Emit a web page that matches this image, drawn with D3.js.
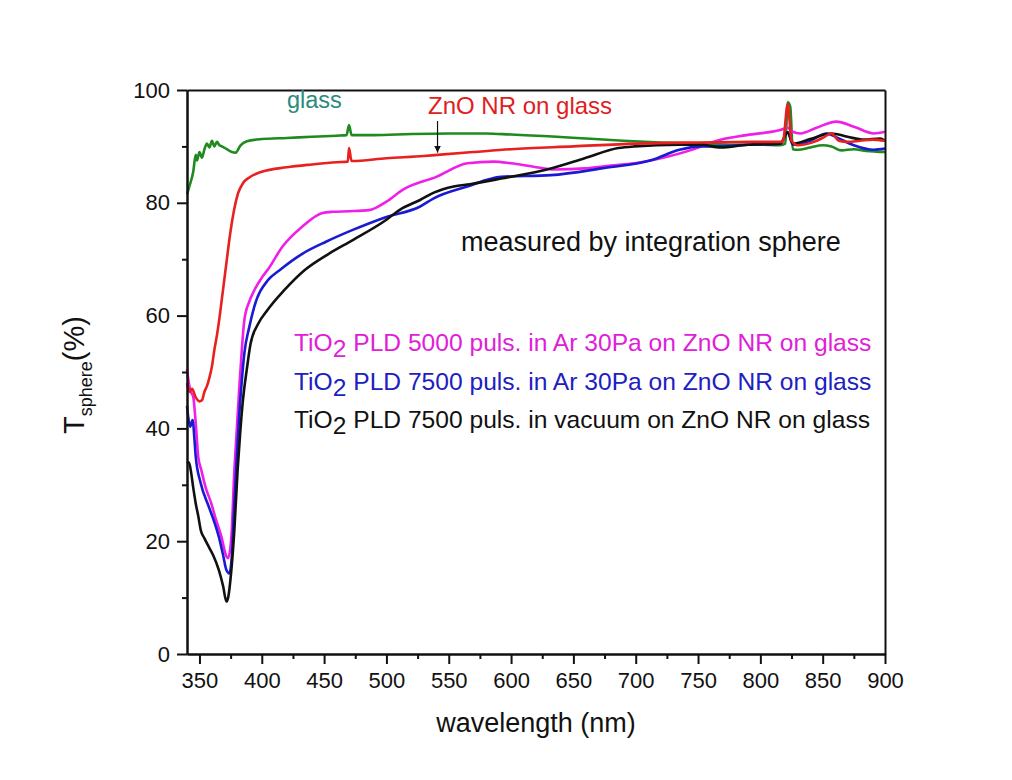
<!DOCTYPE html>
<html>
<head>
<meta charset="utf-8">
<script src="https://cdn.jsdelivr.net/npm/d3@7"></script>
<style>
  body { margin: 0; background: #fff; }
  svg { font-family: "Liberation Sans", Arial, sans-serif; }
</style>
</head>
<body>
<div id="chart"></div>
<script>
// transmission spectra, [wavelength nm, T %]
const glass = [
  [340, 81.5], [342, 83], [345, 85.5], [347, 88.5], [348, 87.5], [350, 89], [352, 88], [354, 89.5],
  [356, 90.5], [358, 89.8], [360, 91], [362, 90], [364, 90.8], [366, 90.2], [368, 90], [372, 89.5],
  [376, 89], [379, 88.9], [383, 90.2], [388, 90.9], [400, 91.3], [420, 91.5], [440, 91.7], [460, 91.9],
  [468, 92], [470, 93.8], [472, 92], [490, 92], [520, 92.2], [550, 92.3], [580, 92.3], [600, 92.1],
  [630, 91.8], [660, 91.4], [690, 91], [720, 90.7], [750, 90.5], [780, 90.3], [800, 90.3], [815, 90.2],
  [820, 90.5], [822, 97.8], [824, 97], [826, 89.5], [830, 89.4], [840, 89.8], [850, 90.2], [857, 90],
  [865, 89.3], [875, 89.5], [885, 89.2], [900, 89]
];
const znoNR = [
  [340, 48], [342, 46.5], [344, 47], [347, 45.5], [350, 44.8], [352, 45], [354, 46.5], [356, 47.5],
  [358, 49], [360, 51], [362, 54], [364, 56.5], [366, 59.5], [368, 63], [370, 66.5], [372, 70],
  [374, 73.5], [376, 76.5], [378, 79], [381, 81.7], [385, 83.5], [390, 84.5], [400, 85.5], [420, 86.3],
  [440, 86.8], [460, 87.2], [469, 87.3], [470, 89.7], [472, 87.4], [500, 87.9], [530, 88.3], [541, 88.5],
  [570, 89], [600, 89.5], [650, 90], [700, 90.5], [750, 90.7], [800, 90.8], [818, 90.8], [822, 97.5],
  [825, 91], [830, 90.2], [843, 90.8], [850, 91.5], [857, 92.3], [863, 91], [870, 90.8], [880, 91],
  [890, 91.2], [900, 91]
];
const tio5000Ar = [
  [340, 50.5], [341.5, 48], [343, 46.5], [345, 45.6], [347, 41], [349, 35], [351.5, 32.6], [355, 29.5],
  [359.5, 26.7], [363, 24], [367.6, 20.8], [370, 18.5], [371.6, 17.3], [373, 17], [375.6, 20.8],
  [378, 32.6], [380, 40], [382, 47.4], [384, 54], [386, 59.2], [390, 62.5], [394, 64.5], [400.5, 66.9],
  [405, 68.2], [416.5, 72.2], [432.6, 75.8], [448.7, 78.2], [456.7, 78.4], [470, 78.5], [486, 78.7],
  [500, 80.2], [513, 82.3], [540, 84.6], [565, 87], [586, 87.3], [600, 87], [618, 86.4], [635, 85.9],
  [659, 86.1], [680, 86.6], [699, 87], [726, 88.2], [753, 90], [762, 90.8], [789, 92], [816, 92.9],
  [822, 93.3], [826, 92.6], [832, 92.3], [845, 93.3], [861, 94.4], [875, 93.5], [891, 92.3], [900, 92.6]
];
const tio7500Ar = [
  [340, 44], [341, 42], [342.5, 40.3], [344.5, 41.5], [346, 38], [347, 35], [351, 30.3], [357.5, 26.1],
  [361, 24], [365.5, 20.8], [369, 17.5], [371.6, 14.9], [374, 14.3], [376, 17.5], [378, 26.7], [380, 35],
  [382, 42.7], [384, 48.5], [386, 53.3], [390, 58], [394, 61.6], [405, 66.3], [414, 68], [432.8, 71],
  [451.5, 73.1], [473, 75.2], [500, 77.5], [526.7, 79.3], [538, 80.8], [565, 82.9], [592, 84.6],
  [632, 84.9], [672.6, 86.1], [713, 87.6], [735, 89.4], [753, 90], [762, 90], [790, 90.3], [816, 90.5],
  [822, 92.5], [826, 90.3], [840, 91], [853, 92.3], [862, 91.5], [875, 90.2], [891, 89.4], [900, 89.6]
];
const tio7500Vac = [
  [340, 33.8], [341.5, 34], [343, 32.6], [345, 29.5], [347, 26.7], [349, 24.5], [351, 22], [354, 20.5],
  [357.5, 19], [361, 17.5], [365.5, 14.9], [369, 12], [371.6, 9.3], [373, 10], [375.6, 14.9], [378, 22],
  [380.6, 32.6], [382.6, 39], [384.6, 44.4], [388, 50.5], [391, 55], [397, 58.5], [404.6, 61], [418, 64.5],
  [434, 68], [454, 71], [473, 73.4], [500, 77], [511, 78.8], [527, 80.5], [538, 81.8], [554, 82.9],
  [567, 83.3], [592, 84.3], [632, 86.1], [659, 87.9], [686, 89.7], [699, 90], [735, 90.3], [753, 90.3],
  [768, 89.8], [790, 90.3], [816, 90.5], [822, 92.5], [826, 90.5], [840, 91.3], [857, 92.3], [870, 91.7],
  [883, 91.2], [896, 91.4], [900, 91]
];

const xMajor = [350, 400, 450, 500, 550, 600, 650, 700, 750, 800, 850, 900];
const xMinor = [375, 425, 475, 525, 575, 625, 675, 725, 775, 825, 875];
const yMajor = [0, 20, 40, 60, 80, 100];
const yMinor = [10, 30, 50, 70, 90];

const series = [
  { data: glass, color: '#1f8a1f' },
  { data: tio5000Ar, color: '#f01fe8' },
  { data: tio7500Ar, color: '#1a1ad2' },
  { data: tio7500Vac, color: '#111111' },
  { data: znoNR, color: '#e82020' }
];

const legendRows = [
  { text: ' PLD 5000 puls. in Ar 30Pa on ZnO NR on glass', color: '#e020d8' },
  { text: ' PLD 7500 puls. in Ar 30Pa on ZnO NR on glass', color: '#2020c0' },
  { text: ' PLD 7500 puls. in vacuum on ZnO NR on glass', color: '#111111' }
];

const W = 1012, H = 780;
const margin = { top: 90, right: 127, bottom: 126, left: 187 };

const svg = d3.select('#chart').append('svg')
  .attr('width', W).attr('height', H);

const x = d3.scaleLinear().domain([340, 900]).range([margin.left, W - margin.right]);
const y = d3.scaleLinear().domain([0, 100]).range([H - margin.bottom, margin.top]);

const line = d3.line()
  .x(function (d) { return x(d[0]); })
  .y(function (d) { return y(d[1]); })
  .curve(d3.curveMonotoneX);

svg.append('g')
  .selectAll('path')
  .data(series)
  .join('path')
  .attr('fill', 'none')
  .attr('stroke', function (d) { return d.color; })
  .attr('stroke-width', 2.6)
  .attr('stroke-linejoin', 'round')
  .attr('d', function (d) { return line(d.data); });

// axes
function styleAxis(g) {
  g.selectAll('.domain').attr('stroke', '#111').attr('stroke-width', 2);
  g.selectAll('.tick line').attr('stroke', '#111').attr('stroke-width', 2);
  g.selectAll('.tick text').attr('fill', '#111').style('font-size', '22px');
}

svg.append('g')
  .attr('transform', 'translate(0,' + y(0) + ')')
  .call(d3.axisBottom(x).tickValues(xMinor).tickSize(5).tickSizeOuter(0).tickFormat(''))
  .call(styleAxis);
svg.append('g')
  .attr('transform', 'translate(0,' + y(0) + ')')
  .call(d3.axisBottom(x).tickValues(xMajor).tickSize(10).tickSizeOuter(0).tickPadding(8))
  .call(styleAxis);

svg.append('g')
  .attr('transform', 'translate(' + x(340) + ',0)')
  .call(d3.axisLeft(y).tickValues(yMinor).tickSize(5).tickSizeOuter(0).tickFormat(''))
  .call(styleAxis);
svg.append('g')
  .attr('transform', 'translate(' + x(340) + ',0)')
  .call(d3.axisLeft(y).tickValues(yMajor).tickSize(10).tickSizeOuter(0).tickPadding(7))
  .call(styleAxis);

svg.append('g')
  .attr('transform', 'translate(0,' + y(100) + ')')
  .call(d3.axisTop(x).tickValues([]).tickSizeOuter(0))
  .call(styleAxis);
svg.append('g')
  .attr('transform', 'translate(' + x(900) + ',0)')
  .call(d3.axisRight(y).tickValues([]).tickSizeOuter(0))
  .call(styleAxis);

// axis titles
svg.append('text')
  .attr('x', (x(340) + x(900)) / 2)
  .attr('y', 732)
  .attr('text-anchor', 'middle')
  .style('font-size', '27px')
  .attr('fill', '#111')
  .text('wavelength (nm)');

const yt = svg.append('text')
  .attr('transform', 'translate(84,375) rotate(-90)')
  .attr('text-anchor', 'middle')
  .attr('fill', '#111')
  .style('font-size', '29px');
yt.append('tspan').text('T');
yt.append('tspan').attr('dy', 8).style('font-size', '18px').text('sphere');
yt.append('tspan').attr('dy', -8).text('(%)');

// annotations
svg.append('text')
  .attr('x', 287).attr('y', 108)
  .style('font-size', '23.5px').attr('fill', '#2a8a7c')
  .text('glass');

svg.append('text')
  .attr('x', 428).attr('y', 114)
  .style('font-size', '24px').attr('fill', '#e02020')
  .text('ZnO NR on glass');

svg.append('text')
  .attr('x', 461).attr('y', 251)
  .style('font-size', '27px').attr('fill', '#111')
  .text('measured by integration sphere');

// arrow pointing to the ZnO curve
svg.append('defs').append('marker')
  .attr('id', 'arrowhead')
  .attr('viewBox', '0 0 10 10')
  .attr('refX', 10).attr('refY', 5)
  .attr('markerWidth', 7).attr('markerHeight', 10)
  .attr('markerUnits', 'userSpaceOnUse')
  .attr('orient', 'auto')
  .append('path')
  .attr('d', 'M0,0 L10,5 L0,10 Z')
  .attr('fill', '#111');

svg.append('line')
  .attr('x1', x(541)).attr('x2', x(541))
  .attr('y1', y(94.5)).attr('y2', y(88.9))
  .attr('stroke', '#111').attr('stroke-width', 1.2)
  .attr('marker-end', 'url(#arrowhead)');

// legend
const legend = svg.append('g');
legendRows.forEach(function (row, i) {
  const t = legend.append('text')
    .attr('x', 294)
    .attr('y', 351 + i * 38.5)
    .attr('fill', row.color)
    .style('font-size', '24.6px');
  t.append('tspan').text('TiO');
  t.append('tspan').attr('dy', 6).text('2');
  t.append('tspan').attr('dy', -6).text(row.text);
});
</script>
</body>
</html>
